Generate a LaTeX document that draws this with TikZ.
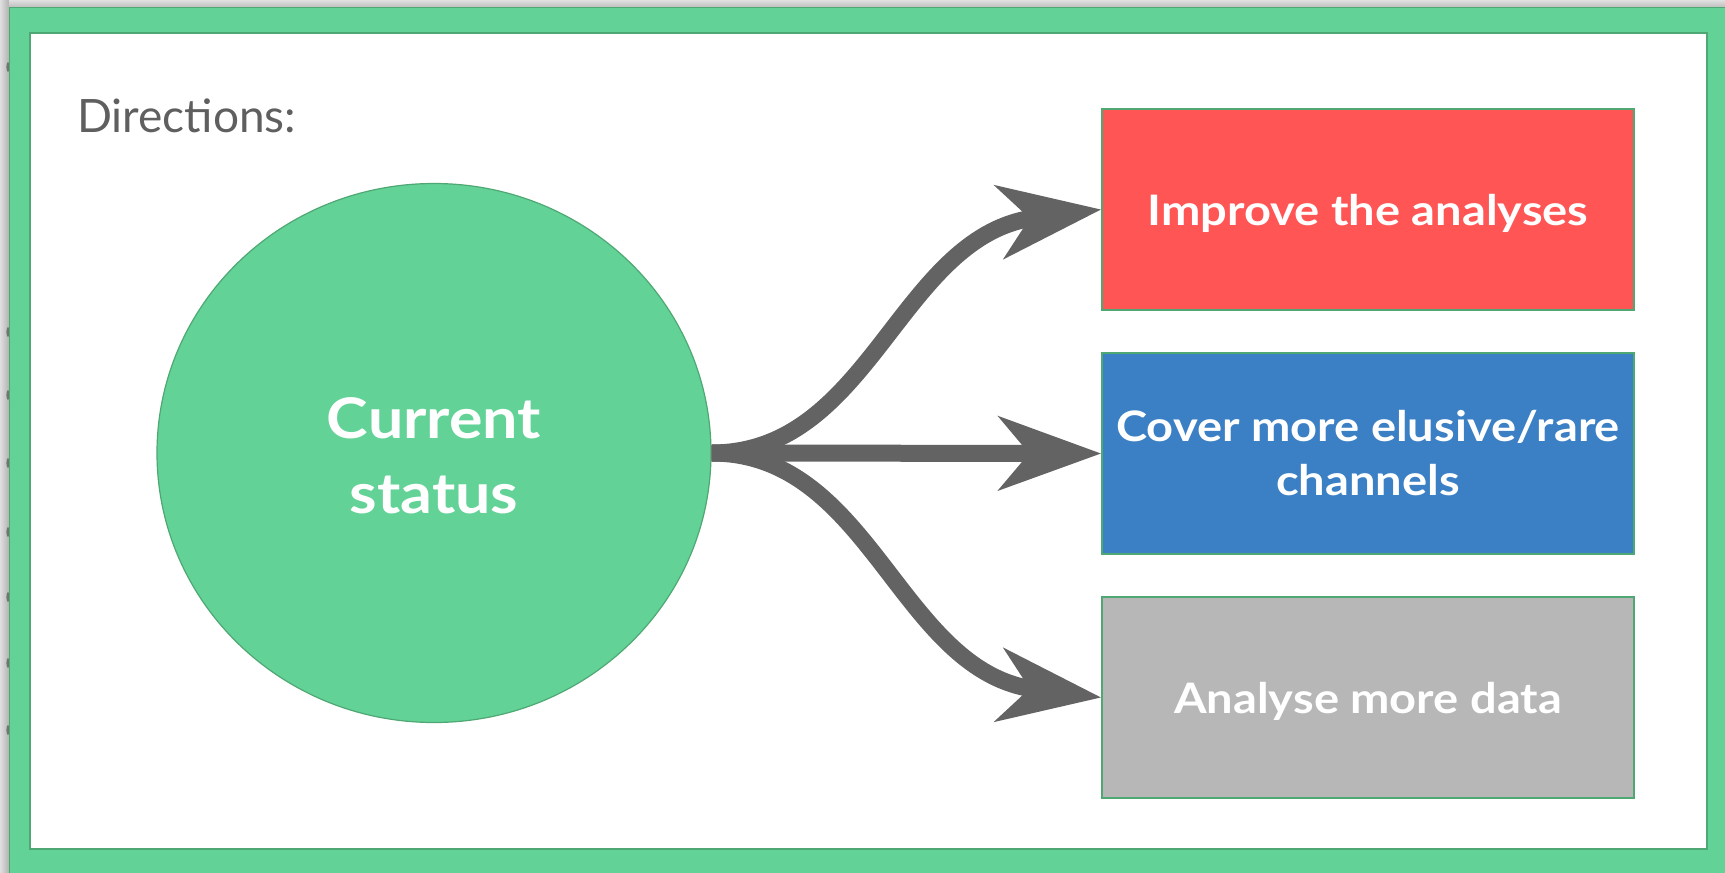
\documentclass[tikz,border=0pt]{standalone}
\usepackage{fontspec}
\setmainfont{Lato}
\newfontfamily\widefont{Lato}[FakeStretch=1.12]
\usetikzlibrary{arrows.meta,shapes.geometric}

\definecolor{slidegreen}{HTML}{62D296}
\definecolor{edgegreen}{HTML}{4FA874}
\definecolor{boxred}{HTML}{FF5555}
\definecolor{boxblue}{HTML}{3B80C4}
\definecolor{boxgray}{HTML}{B7B7B7}
\definecolor{arrowgray}{HTML}{636363}
\definecolor{labelgray}{HTML}{5F5F5F}
\definecolor{shadowgray}{HTML}{D2D2D2}

\tikzset{
  choice/.style={rectangle, draw=edgegreen, line width=1.5pt,
    minimum width=532pt, minimum height=201pt, inner sep=0pt,
    text=white, font=\widefont\fontsize{42}{54}\selectfont\bfseries, align=center},
  flow/.style={draw=arrowgray, line width=17pt,
    -{Stealth[length=102pt, width=73pt, inset=30pt, fill=arrowgray]}},
  pin/.style={fill=black!55, draw=none},
}

\begin{document}
\begin{tikzpicture}[x=1pt, y=-1pt]
  \useasboundingbox (0,0) rectangle (1725,873);

  % window shadow behind the slide
  \fill[shadowgray] (0,0) rectangle (1725,873);
  \shade[left color=shadowgray!70, right color=black!30] (0,0) rectangle (9,873);
  \shade[top color=shadowgray!70, bottom color=black!25] (9,0) rectangle (1725,7);
  \foreach \yy in {67,332,395,463,532,597,663,730}
    \fill[pin] (8,\yy) ellipse [x radius=1.6pt, y radius=5pt];

  % slide frame
  \fill[slidegreen] (9,7) rectangle (1725,873);
  \draw[edgegreen, line width=1.2pt] (9.6,873) -- (9.6,7.6) -- (1725,7.6);
  \draw[edgegreen, line width=2pt, fill=white] (30,33) rectangle (1707,849);

  % heading
  \node[anchor=base west, inner sep=0pt, text=labelgray,
        font=\fontsize{46}{46}\selectfont] (head) at (77,132) {Directions:};

  % start node and its caption
  \node[ellipse, draw=edgegreen, line width=1.2pt, fill=slidegreen,
        minimum width=554pt, minimum height=539pt, inner sep=0pt] (now) at (434,453) {};
  \node[text=white, align=center, inner sep=0pt,
        font=\widefont\fontsize{56}{75}\selectfont\bfseries] (nowtext)
        at ([yshift=-3pt]now.center) {Current\\status};

  % directions
  \node[choice, fill=boxred, text depth=0pt] (improve) at (1368,209.5)
        {Improve the analyses};
  \node[choice, fill=boxblue] (cover) at (1368,453.5)
        {Cover more elusive/rare\\channels};
  \node[choice, fill=boxgray, text depth=0pt] (data) at (1368,697.5)
        {Analyse more data};

  % connectors
  \draw[flow] (now.east) .. controls +(160,0) and +(-202,25) .. (improve.west);
  \draw[flow] (now.east) -- (cover.west);
  \draw[flow] (now.east) .. controls +(160,0) and +(-202,-25) .. (data.west);
\end{tikzpicture}
\end{document}
